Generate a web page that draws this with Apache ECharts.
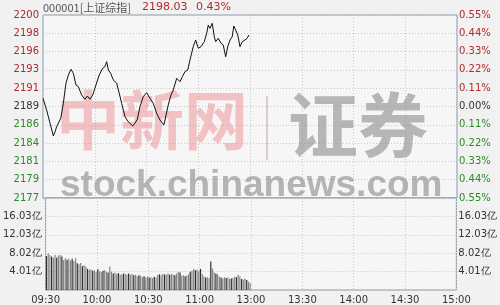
<!DOCTYPE html>
<html><head><meta charset="utf-8">
<script src="https://cdn.jsdelivr.net/npm/echarts@6/dist/echarts.min.js"></script>
<style>html,body{margin:0;padding:0;background:#f1f1f1}#c{width:500px;height:305px}</style>
</head><body><div id="c"></div>
<script>
// ---- data ----
const PREV_CLOSE = 2188.62;
const LAST_PRICE = '2198.03';
const LAST_PCT = '0.43%';
const CODE_NAME = '000001[上证综指]';
const timeTicks = ['09:30','10:00','10:30','11:00','13:00','13:30','14:00','14:30','15:00'];
const priceTickLabels = ['2177','2179','2181','2184','2186','2189','2191','2193','2196','2198','2200'];
const pctTickLabels = ['0.55%','0.44%','0.33%','0.22%','0.11%','0.00%','0.11%','0.22%','0.33%','0.44%','0.55%'];
const volTickLabels = ['','4.01亿','8.02亿','12.03亿','16.03亿',''];
const VOL_MAX = 20.04;
const priceMinutes = [0,2.1,4.1,6.0,7.0,7.9,8.9,10.3,11.8,13.3,14.7,16.2,17.6,19.1,20.5,22.4,24.3,25.7,27.2,28.8,30.7,32.6,34.6,35.9,36.9,37.9,39.2,40.8,42.7,44.2,45.6,47.5,49.4,52.0,53.3,54.7,56.2,58.1,60.1,62.0,63.9,65.9,67.8,70.1,72.6,74.2,75.5,77.5,79.4,80.8,82.3,83.9,85.2,87.1,88.5,90.0,91.6,93.5,94.9,95.8,96.8,98.1,99.3,100.1,101.6,103.2,104.5,105.9,107.1,108.4,109.7,110.6,111.7,112.9,114.2,115.5,117.1,118.3,119.4];
const prices = [2189.70,2188.16,2186.41,2184.74,2185.30,2185.96,2185.75,2187.07,2189.04,2191.67,2192.77,2193.52,2192.99,2191.45,2191.23,2190.13,2189.57,2190.00,2189.57,2190.13,2191.45,2192.77,2193.65,2193.86,2194.52,2193.42,2192.99,2192.11,2191.67,2190.36,2189.04,2187.28,2186.62,2186.05,2186.41,2186.94,2188.59,2189.91,2190.44,2189.70,2189.04,2187.73,2186.84,2186.19,2188.82,2190.13,2190.79,2192.33,2191.88,2192.54,2193.20,2193.42,2194.74,2196.49,2197.37,2196.28,2196.49,2197.15,2198.25,2199.34,2198.91,2199.57,2197.80,2197.15,2197.59,2196.94,2196.71,2195.17,2196.49,2197.37,2197.80,2199.21,2198.69,2198.03,2196.49,2197.15,2197.37,2197.59,2198.03];
const volumes = [
7.4,8.0,7.6,7.3,7.0,7.6,7.1,7.5,7.6,7.3,
6.5,6.9,6.6,6.8,6.4,6.8,6.3,6.9,
5.8,5.6,5.9,5.2,5.4,5.1,
4.6,4.4,4.5,4.2,4.3,4.0,4.5,4.1,3.9,4.2,4.3,4.0,3.8,
5.1,
4.0,3.6,3.8,3.5,3.7,3.4,3.3,
3.6,3.5,3.4,3.6,3.3,3.5,3.2,
3.3,3.0,3.2,3.1,2.8,3.0,2.7,
2.9,2.7,2.8,2.6,2.9,2.7,
3.3,3.4,3.2,3.5,3.4,3.3,3.6,3.3,3.5,3.4,3.2,3.6,
4.0,3.8,3.1,
3.2,3.0,3.1,3.4,4.0,
4.2,4.6,4.3,4.4,4.1,
4.6,3.5,3.0,2.7,2.8,2.6,6.2,4.7,3.8,3.6,
3.4,2.9,2.7,2.5,2.8,2.6,2.7,2.4,2.5,2.6,
2.9,2.8,3.3,3.0,2.4,2.3,2.5,2.2,1.8,1.5
];

// ---- chart ----
const RED = '#b02a2a', GREEN = '#2a8a2a', DARK = '#333333';
const FONT = 'DejaVu Sans';
const pMin = PREV_CLOSE * (1 - 0.0055), pMax = PREV_CLOSE * (1 + 0.0055);
const pStep = (pMax - pMin) / 10;
function idxOf(v, min, step){ return Math.round((v - min) / step); }
const lineData = priceMinutes.map((m, i) => [m, prices[i]]);
const volData = volumes.map((v, i) => [i + 0.5, v]);

const chart = echarts.init(document.getElementById('c'), null, {renderer:'canvas'});
const gridLine = {show:true, lineStyle:{color:'#c8c8c8', type:[1,2], width:1}};
chart.setOption({
  backgroundColor:'#f1f1f1',
  animation:false,
  textStyle:{fontFamily:FONT},
  grid:[
    {left:43, right:43, top:15, height:183, show:true, backgroundColor:'#f6f6f6', borderColor:'#8796a6', borderWidth:1},
    {left:43, right:43, top:198, height:92, show:true, backgroundColor:'#f6f6f6', borderColor:'#8796a6', borderWidth:1}
  ],
  xAxis:[
    {type:'value', gridIndex:0, min:0, max:240, interval:30, axisLine:{show:false}, axisTick:{show:false}, axisLabel:{show:false}, splitLine:gridLine},
    {type:'value', gridIndex:1, min:0, max:240, interval:30, axisLine:{show:false}, axisTick:{show:false}, splitLine:gridLine,
     axisLabel:{show:true, color:DARK, fontSize:10, fontFamily:FONT, margin:5, formatter:v => timeTicks[Math.round(v/30)] || ''}}
  ],
  yAxis:[
    {type:'value', gridIndex:0, min:pMin, max:pMax, interval:pStep, axisLine:{show:false}, axisTick:{show:false},
     splitLine:{show:true, lineStyle:{color:['#8796a6','#c8c8c8','#c8c8c8','#c8c8c8','#c8c8c8','#c8c8c8','#c8c8c8','#c8c8c8','#c8c8c8','#c8c8c8','#c8c8c8'], type:[1,2]}},
     axisLabel:{fontSize:10, fontFamily:FONT, margin:4, showMinLabel:true, showMaxLabel:true,
       formatter:v => priceTickLabels[idxOf(v,pMin,pStep)] || '',
       color:v => { const k = idxOf(v,pMin,pStep); return k>5?RED:(k<5?GREEN:DARK); }}},
    {type:'value', gridIndex:0, position:'right', min:pMin, max:pMax, interval:pStep, axisLine:{show:false}, axisTick:{show:false}, splitLine:{show:false},
     axisLabel:{fontSize:10, fontFamily:FONT, margin:2, showMinLabel:true, showMaxLabel:true,
       formatter:v => pctTickLabels[idxOf(v,pMin,pStep)] || '',
       color:v => { const k = idxOf(v,pMin,pStep); return k>5?RED:(k<5?GREEN:DARK); }}},
    {type:'value', gridIndex:1, min:0, max:VOL_MAX, interval:VOL_MAX/5, axisLine:{show:false}, axisTick:{show:false}, splitLine:gridLine,
     axisLabel:{color:DARK, fontSize:10, fontFamily:FONT, margin:4, formatter:v => volTickLabels[Math.round(v/(VOL_MAX/5))] || ''}},
    {type:'value', gridIndex:1, position:'right', min:0, max:VOL_MAX, interval:VOL_MAX/5, axisLine:{show:false}, axisTick:{show:false}, splitLine:{show:false},
     axisLabel:{color:DARK, fontSize:10, fontFamily:FONT, margin:2, formatter:v => volTickLabels[Math.round(v/(VOL_MAX/5))] || ''}}
  ],
  graphic:[
    {type:'text', left:56, top:88, z:1, silent:true, style:{text:'中新网', font:'bold 64px "Noto Sans CJK SC"', fill:'rgba(236,140,145,0.5)'}},
    {type:'rect', left:266, top:96, z:1, silent:true, shape:{width:2, height:64}, style:{fill:'rgba(200,170,170,0.55)'}},
    {type:'text', left:288, top:90, z:1, silent:true, style:{text:'证券', font:'bold 70px "Noto Sans CJK SC"', fill:'rgba(140,140,140,0.6)'}},
    {type:'text', left:60, top:167, z:1, silent:true, style:{text:'stock.chinanews.com', font:'bold 37px "Liberation Sans"', fill:'rgba(125,125,125,0.55)'}},
    {type:'text', left:43, top:2, style:{text:CODE_NAME, font:'11px "Noto Sans CJK SC"', fill:'#555555'}},
    {type:'text', left:142, top:2, style:{text:LAST_PRICE, font:'11px "DejaVu Sans"', fill:RED}},
    {type:'text', left:196, top:2, style:{text:LAST_PCT, font:'11px "DejaVu Sans"', fill:RED}}
  ],
  series:[
    {type:'line', xAxisIndex:0, yAxisIndex:0, data:lineData, showSymbol:false, z:5, lineStyle:{color:'#111111', width:1}},
    {type:'bar', xAxisIndex:1, yAxisIndex:2, data:volData, barWidth:1.2, z:5,
     itemStyle:{color:p => (p.dataIndex % 3 === 0 ? '#2e2e2e' : '#848484')}}
  ]
});
</script></body></html>
